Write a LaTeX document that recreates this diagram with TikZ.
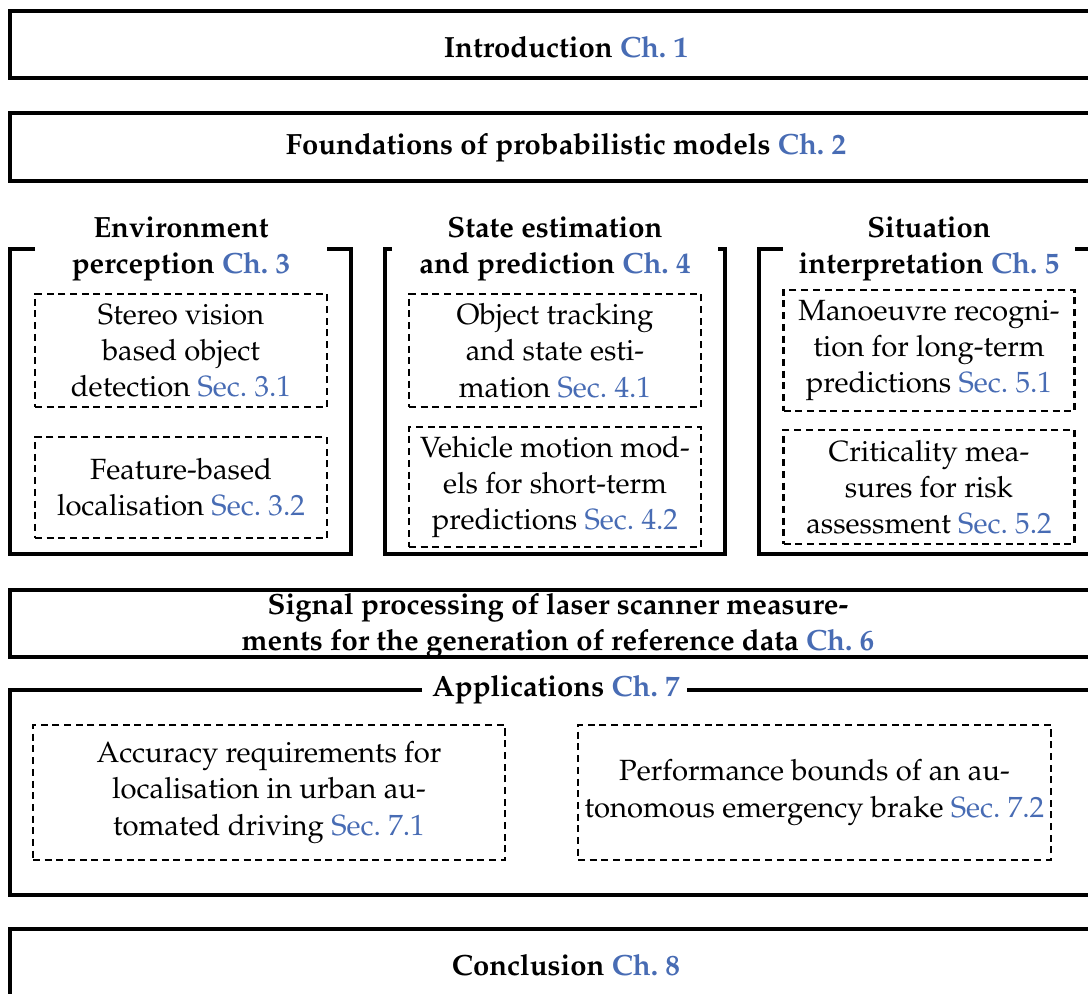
\documentclass[tikz,border=0pt]{standalone}
\usepackage[T1]{fontenc}
\usepackage{mathpazo}
\definecolor{chref}{RGB}{72,108,180}
\newcommand{\xref}[1]{\textcolor{chref}{#1}}
\begin{document}
\begin{tikzpicture}[x=0.342pt,y=-0.342pt,
  every node/.style={font=\fontsize{10}{12.4}\selectfont},
  frame/.style={line width=1.2pt, line join=miter},
  titletext/.style={font=\fontsize{10}{12.4}\selectfont\bfseries, align=center, inner sep=0pt},
  bodytext/.style={align=center, inner sep=0pt},
  dbox/.style 2 args={draw, line width=0.7pt, dash pattern=on 2.4pt off 1.6pt,
    align=center, inner sep=0pt,
    minimum width=#1*0.342pt, minimum height=#2*0.342pt}
]
\useasboundingbox (0,0) rectangle (1088,994);
\begin{scope}
\clip (0,0) rectangle (1088,994);

% full-width chapter boxes
\draw[frame] (10,11) rectangle (1122,78);
\node[titletext] (intro) at (566,47) {Introduction \xref{Ch.~1}};

\draw[frame] (10,113) rectangle (1122,181);
\node[titletext] (found) at (566,148) {Foundations of probabilistic models \xref{Ch.~2}};

% three column frames with a gap for the titles
\draw[frame] (35,249) -- (10,249) -- (10,554) -- (351,554) -- (351,249) -- (327,249);
\draw[frame] (392,249) -- (385,249) -- (385,554) -- (725,554) -- (725,249) -- (718,249);
\draw[frame] (783,249) -- (759,249) -- (759,554) -- (1100,554) -- (1100,249) -- (1075,249);

\node[titletext] (ch3) at (181,249) {Environment\\perception \xref{Ch.~3}};
\node[titletext] (ch4) at (555,249) {State estimation\\and prediction \xref{Ch.~4}};
\node[titletext] (ch5) at (929,249) {Situation\\interpretation \xref{Ch.~5}};

% sections of chapter 3
\node[dbox={292}{113}] (s31) at (181,350.5) {Stereo vision\\based object\\detection \xref{Sec.~3.1}};
\node[dbox={292}{101}] (s32) at (181,487.5) {Feature-based\\localisation \xref{Sec.~3.2}};

% sections of chapter 4
\node[dbox={292}{113}] (s41) at (555,350.5) {Object tracking\\and state esti-\\mation \xref{Sec.~4.1}};
\node[dbox={292}{120}] (s42) at (555,487) {Vehicle motion mod-\\els for short-term\\predictions \xref{Sec.~4.2}};

% sections of chapter 5
\node[dbox={291}{121}] (s51) at (929,350.5) {Manoeuvre recogni-\\tion for long-term\\predictions \xref{Sec.~5.1}};
\node[dbox={291}{114}] (s52) at (929,487) {Criticality mea-\\sures for risk\\assessment \xref{Sec.~5.2}};

% chapter 6
\draw[frame] (10,590) rectangle (1122,657);
\node[titletext] (ch6) at (558,626) {Signal processing of laser scanner measure-\\ments for the generation of reference data \xref{Ch.~6}};

% chapter 7 with its two sections
\draw[frame] (422,690) -- (10,690) -- (10,895) -- (1122,895);
\draw[frame] (687,690) -- (1122,690);
\node[titletext] (ch7) at (556,690) {Applications \xref{Ch.~7}};

\node[dbox={472}{135}] (s71) at (269,792.5) {Accuracy requirements for\\localisation in urban au-\\tomated driving \xref{Sec.~7.1}};
\node[dbox={473}{135}] (s72) at (814.5,792.5) {Performance bounds of an au-\\tonomous emergency brake \xref{Sec.~7.2}};

% conclusion
\draw[frame] (10,929) rectangle (1122,1010);
\node[titletext] (concl) at (566,965) {Conclusion \xref{Ch.~8}};
\end{scope}
\end{tikzpicture}
\end{document}
